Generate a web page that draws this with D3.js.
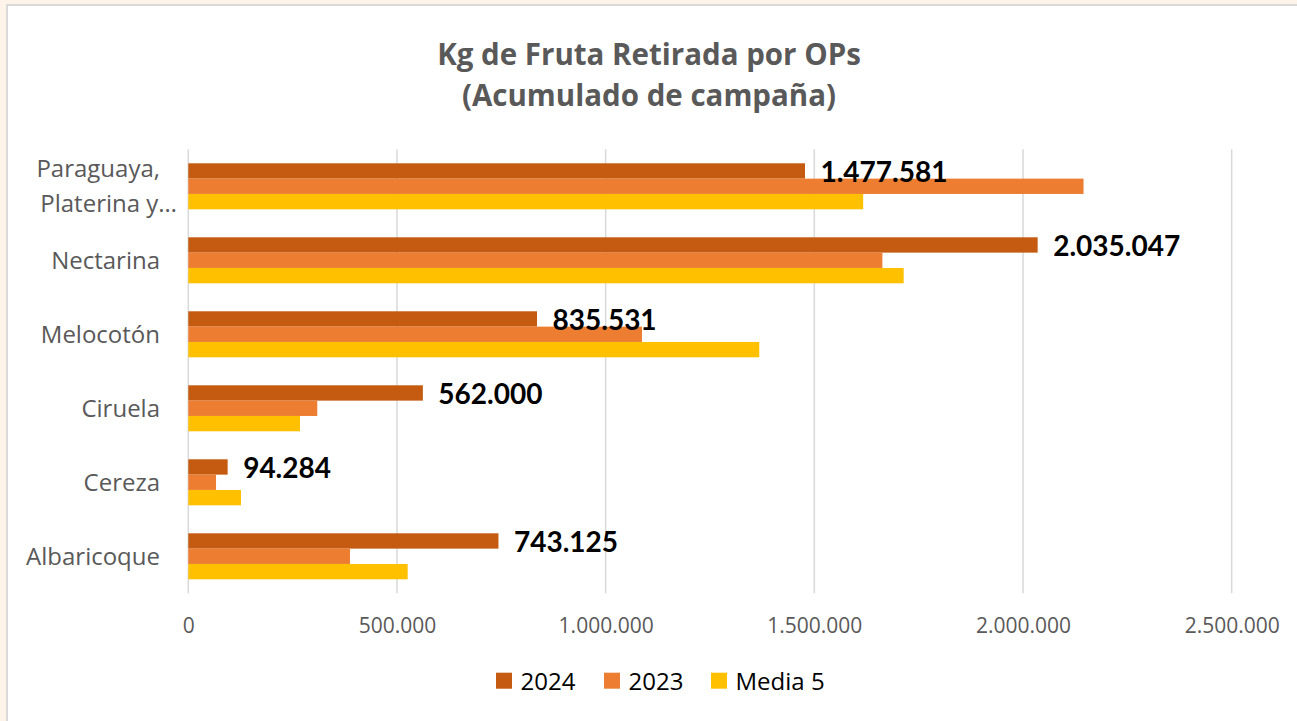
<!DOCTYPE html>
<html>
<head>
<meta charset="utf-8">
<script src="https://cdn.jsdelivr.net/npm/d3@7"></script>
<style>
  html, body { margin: 0; padding: 0; background: #FDF3E8; }
  svg { display: block; }
</style>
</head>
<body>
<svg id="chart" width="1297" height="721"></svg>
<script>
// ---- data ----
const categories = ["Paraguaya, Platerina y…", "Nectarina", "Melocotón", "Ciruela", "Cereza", "Albaricoque"];
const seriesNames = ["2024", "2023", "Media 5"];
const values2024 = [1477581, 2035047, 835531, 562000, 94284, 743125];
const values2023 = [2145000, 1663000, 1087000, 309000, 66400, 387400];
const valuesMedia5 = [1617000, 1714000, 1368000, 267600, 126300, 525600];
const xTicks = [0, 500000, 1000000, 1500000, 2000000, 2500000];
const colors = ["#C55A11", "#ED7D31", "#FFC000"];

const es = d3.formatLocale({ decimal: ",", thousands: ".", grouping: [3], currency: ["", "€"] });
const fmt = es.format(",d");

const svg = d3.select("#chart");

// chart frame
svg.append("rect").attr("x", 6).attr("y", 4).attr("width", 1300).attr("height", 730)
  .attr("fill", "#D9D9D9");
svg.append("rect").attr("x", 8).attr("y", 6).attr("width", 1300).attr("height", 730)
  .attr("fill", "#fff");

// title
const title = svg.append("text")
  .attr("text-anchor", "middle")
  .attr("font-family", "'Open Sans', sans-serif")
  .attr("font-weight", "bold")
  .attr("font-size", 29.5)
  .attr("fill", "#595959");
title.append("tspan").attr("x", 649).attr("y", 65).text("Kg de Fruta Retirada por OPs");
title.append("tspan").attr("x", 649).attr("y", 106).text("(Acumulado de campaña)");

// scales
const x = d3.scaleLinear().domain([0, 2500000]).range([188.3, 1231.7]);
const y = d3.scaleBand().domain(categories).range([149.3, 593.3])
  .paddingInner(28 / 74).paddingOuter(14 / 74);
const ySub = d3.scaleBand().domain(seriesNames).range([0, y.bandwidth()]).padding(0);

// gridlines
svg.append("g").selectAll("line").data(xTicks).join("line")
  .attr("x1", d => x(d)).attr("x2", d => x(d))
  .attr("y1", 149.3).attr("y2", 593.3)
  .attr("stroke", "#D9D9D9").attr("stroke-width", 1.5);

// x axis tick labels
const xAxis = d3.axisBottom(x).tickValues(xTicks).tickFormat(fmt).tickSize(0).tickPadding(0);
const gx = svg.append("g").attr("transform", "translate(0,617)").call(xAxis);
gx.select(".domain").remove();
gx.selectAll("text")
  .attr("dy", 0)
  .attr("y", 15.7)
  .attr("font-family", "'Open Sans', sans-serif")
  .attr("font-size", 21)
  .attr("fill", "#595959");

// category labels
const catG = svg.append("g")
  .attr("font-family", "'Open Sans', sans-serif")
  .attr("font-size", 24)
  .attr("fill", "#595959")
  .attr("text-anchor", "end");
categories.forEach((c, i) => {
  const cy = y(c) + y.bandwidth() / 2;
  if (i === 0) {
    const t = catG.append("text");
    t.append("tspan").attr("x", 160).attr("y", cy - 9).text("Paraguaya,");
    t.append("tspan").attr("x", 177).attr("y", cy + 25.5).text("Platerina y…");
  } else {
    catG.append("text").attr("x", 160).attr("y", cy + 9).text(c);
  }
});

// bars
const rows = categories.map((c, i) => ({
  cat: c,
  vals: [values2024[i], values2023[i], valuesMedia5[i]]
}));

const groups = svg.append("g").selectAll("g").data(rows).join("g")
  .attr("transform", d => `translate(0,${y(d.cat)})`);

groups.selectAll("rect").data(d => d.vals.map((v, k) => ({ v, k }))).join("rect")
  .attr("x", x(0))
  .attr("y", d => ySub(seriesNames[d.k]))
  .attr("width", d => x(d.v) - x(0))
  .attr("height", ySub.bandwidth())
  .attr("fill", d => colors[d.k]);

// data labels for 2024
groups.append("text")
  .attr("x", d => x(d.vals[0]) + 15.5)
  .attr("y", ySub("2024") + ySub.bandwidth() / 2 + 11)
  .attr("font-family", "Lato, sans-serif")
  .attr("font-weight", "bold")
  .attr("font-size", 28)
  .attr("fill", "#000")
  .text(d => fmt(d.vals[0]));

// legend
const legend = svg.append("g");
const legendX = [496, 604, 711];
seriesNames.forEach((s, k) => {
  legend.append("rect").attr("x", legendX[k]).attr("y", 672.7)
    .attr("width", 16).attr("height", 16).attr("fill", colors[k]);
  legend.append("text").attr("x", legendX[k] + 24.5).attr("y", 690)
    .attr("font-family", "'Open Sans', sans-serif")
    .attr("font-size", 24)
    .attr("fill", "#000")
    .text(s);
});
</script>
</body>
</html>
